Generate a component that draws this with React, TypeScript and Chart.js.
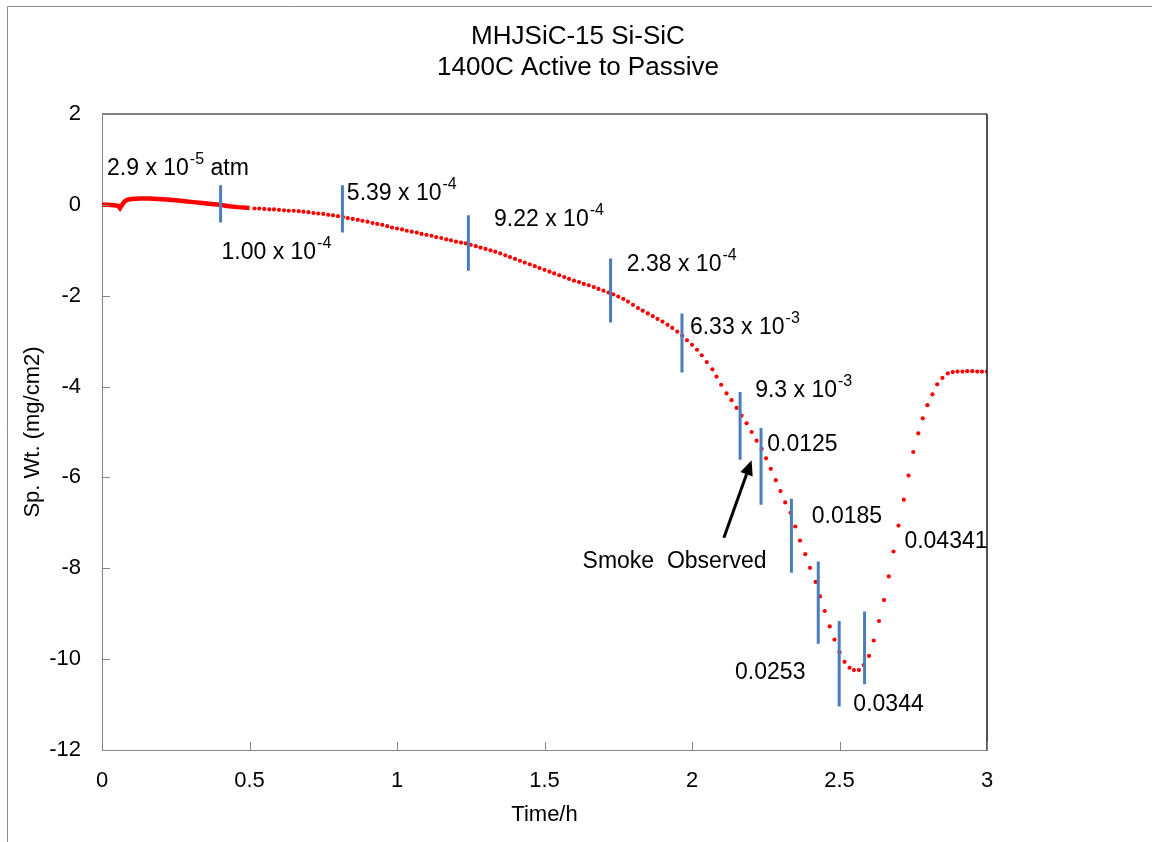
import React, { useEffect, useRef } from "react";
import { Chart, registerables } from "chart.js";

Chart.register(...registerables);

// ---------- text ----------
const titleLines = ["MHJSiC-15 Si-SiC", "1400C Active to Passive"];
const xAxisTitle = "Time/h";
const yAxisTitle = "Sp. Wt. (mg/cm2)";

// ---------- axis ranges / ticks ----------
const xMin = 0;
const xMax = 3;
const xStep = 0.5;
const yMin = -12;
const yMax = 2;
const yStep = 2;

// ---------- dense early record (0 - 0.5 h), drawn as a thick trace ----------
const earlyTime = [0.0, 0.02, 0.04, 0.055, 0.061, 0.068, 0.076, 0.085, 0.1, 0.13, 0.16, 0.19, 0.22, 0.25, 0.28, 0.31, 0.34, 0.37, 0.4, 0.43, 0.46, 0.5];
const earlyWeight = [0.0, 0.0, -0.01, -0.02, -0.07, 0.0, 0.07, 0.11, 0.13, 0.14, 0.14, 0.13, 0.12, 0.1, 0.08, 0.06, 0.04, 0.02, 0.0, -0.03, -0.05, -0.07];

// ---------- one-minute points (0.5 - 3 h), drawn as red dots ----------
const dotTime = [
  0.517, 0.533, 0.55, 0.567, 0.583, 0.6, 0.617, 0.633, 0.65, 0.667, 0.683, 0.7, 0.717, 0.733, 0.75, 0.767, 0.783, 0.8,
  0.817, 0.833, 0.85, 0.867, 0.883, 0.9, 0.917, 0.933, 0.95, 0.967, 0.983, 1.0, 1.017, 1.033, 1.05, 1.067, 1.083, 1.1,
  1.117, 1.133, 1.15, 1.167, 1.183, 1.2, 1.217, 1.233, 1.25, 1.267, 1.283, 1.3, 1.317, 1.333, 1.35, 1.367, 1.383, 1.4,
  1.417, 1.433, 1.45, 1.467, 1.483, 1.5, 1.517, 1.533, 1.55, 1.567, 1.583, 1.6, 1.617, 1.633, 1.65, 1.667, 1.683, 1.7,
  1.717, 1.733, 1.75, 1.767, 1.783, 1.8, 1.817, 1.833, 1.85, 1.867, 1.883, 1.9, 1.917, 1.933, 1.95, 1.967, 1.983, 2.0,
  2.017, 2.033, 2.05, 2.069, 2.083, 2.099, 2.117, 2.134, 2.151, 2.168, 2.185, 2.202, 2.219, 2.236, 2.251, 2.267, 2.284,
  2.3, 2.316, 2.334, 2.35, 2.366, 2.384, 2.4, 2.419, 2.434, 2.45, 2.467, 2.483, 2.5, 2.517, 2.534, 2.549, 2.566, 2.582,
  2.6, 2.616, 2.634, 2.651, 2.667, 2.683, 2.7, 2.718, 2.734, 2.75, 2.767, 2.782, 2.798, 2.815, 2.831, 2.849, 2.867,
  2.884, 2.9, 2.917, 2.933, 2.95, 2.967, 2.983, 3.0,
];
const dotWeight = [
  -0.08, -0.08, -0.09, -0.1, -0.1, -0.11, -0.12, -0.13, -0.13, -0.14, -0.15, -0.16, -0.18, -0.19, -0.2, -0.22, -0.23, -0.25,
  -0.27, -0.29, -0.31, -0.33, -0.35, -0.37, -0.4, -0.42, -0.44, -0.47, -0.5, -0.52, -0.54, -0.57, -0.59, -0.61, -0.64, -0.66,
  -0.68, -0.71, -0.73, -0.76, -0.78, -0.81, -0.83, -0.85, -0.88, -0.91, -0.94, -0.97, -1.0, -1.03, -1.07, -1.11, -1.15, -1.19,
  -1.23, -1.27, -1.31, -1.35, -1.39, -1.43, -1.47, -1.51, -1.55, -1.59, -1.63, -1.67, -1.7, -1.74, -1.77, -1.81, -1.85, -1.89,
  -1.93, -1.97, -2.02, -2.07, -2.13, -2.2, -2.27, -2.33, -2.39, -2.45, -2.51, -2.57, -2.64, -2.71, -2.79, -2.88, -2.98, -3.08,
  -3.19, -3.31, -3.46, -3.62, -3.78, -3.96, -4.15, -4.3, -4.47, -4.64, -4.81, -5.0, -5.19, -5.37, -5.58, -5.81, -6.06,
  -6.3, -6.55, -6.78, -7.08, -7.39, -7.69, -7.99, -8.3, -8.62, -8.94, -9.28, -9.57, -9.85, -10.06, -10.19, -10.24, -10.24, -10.13,
  -9.93, -9.59, -9.16, -8.7, -8.18, -7.63, -7.06, -6.49, -5.96, -5.44, -5.03, -4.7, -4.41, -4.17, -3.95, -3.81, -3.71,
  -3.68, -3.67, -3.67, -3.66, -3.66, -3.67, -3.67, -3.67,
];

// ---------- blue markers at each pressure change ----------
const markerTime = [0.402, 0.815, 1.242, 1.724, 1.966, 2.163, 2.234, 2.337, 2.428, 2.499, 2.585];
const markerTop = [0.43, 0.43, -0.23, -1.18, -2.39, -4.12, -4.91, -6.47, -7.85, -9.16, -8.95];
const markerBottom = [-0.39, -0.61, -1.45, -2.59, -3.69, -5.61, -6.6, -8.1, -9.66, -11.04, -10.55];

// ---------- annotation texts (anchor = left edge, vertical middle, in data units) ----------
const noteBase = ["2.9 x 10", "1.00 x 10", "5.39 x 10", "9.22 x 10", "2.38 x 10", "6.33 x 10", "9.3 x 10", "0.0125", "0.0185", "0.04341", "0.0253", "0.0344", "Smoke  Observed"];
const noteSup = ["-5", "-4", "-4", "-4", "-4", "-3", "-3", "", "", "", "", "", ""];
const noteTail = [" atm", "", "", "", "", "", "", "", "", "", "", "", ""];
const noteTime = [0.017, 0.405, 0.83, 1.329, 1.779, 1.993, 2.214, 2.255, 2.406, 2.72, 2.146, 2.547, 1.629];
const noteWeight = [0.84, -1.02, 0.28, -0.29, -1.29, -2.67, -4.05, -5.24, -6.82, -7.37, -10.26, -10.96, -7.81];

// arrow from "Smoke Observed" label
const arrowFrom = { t: 2.108, v: -7.33 };
const arrowTo = { t: 2.202, v: -5.62 };

const FONT = "'Liberation Sans', Arial, sans-serif";

const overlayPlugin = {
  id: "overlay",
  beforeDraw(chart: any) {
    const ctx = chart.ctx;
    ctx.save();
    ctx.fillStyle = "#ffffff";
    ctx.fillRect(0, 0, chart.width, chart.height);
    ctx.strokeStyle = "#8c8c8c";
    ctx.lineWidth = 1;
    ctx.beginPath();
    ctx.moveTo(7.5, chart.height);
    ctx.lineTo(7.5, 6.5);
    ctx.lineTo(chart.width, 6.5);
    ctx.stroke();
    ctx.restore();
  },
  afterDraw(chart: any) {
    const ctx = chart.ctx;
    const area = chart.chartArea;
    const xs = chart.scales.x;
    const ys = chart.scales.y;
    ctx.save();

    // plot border: top (gray) and right (dark)
    ctx.strokeStyle = "#808080";
    ctx.lineWidth = 2;
    ctx.beginPath();
    ctx.moveTo(area.left, area.top);
    ctx.lineTo(area.right, area.top);
    ctx.stroke();
    ctx.strokeStyle = "#1a1a1a";
    ctx.lineWidth = 1.5;
    ctx.beginPath();
    ctx.moveTo(area.right, area.top);
    ctx.lineTo(area.right, area.bottom);
    ctx.stroke();

    // inside tick marks
    ctx.strokeStyle = "#868686";
    ctx.lineWidth = 1;
    ys.ticks.forEach((tk: any) => {
      const y = Math.round(ys.getPixelForValue(tk.value)) + 0.5;
      ctx.beginPath();
      ctx.moveTo(area.left, y);
      ctx.lineTo(area.left + 8, y);
      ctx.stroke();
    });
    xs.ticks.forEach((tk: any) => {
      const x = Math.round(xs.getPixelForValue(tk.value)) + 0.5;
      ctx.beginPath();
      ctx.moveTo(x, area.bottom);
      ctx.lineTo(x, area.bottom - 8);
      ctx.stroke();
    });

    // titles
    ctx.fillStyle = "#000";
    ctx.textAlign = "center";
    ctx.textBaseline = "middle";
    ctx.font = `26px ${FONT}`;
    ctx.fillText(titleLines[0], 578, 37);
    ctx.fillText(titleLines[1], 578, 68);

    ctx.font = `22px ${FONT}`;
    ctx.fillText(xAxisTitle, (area.left + area.right) / 2, 815);
    ctx.save();
    ctx.translate(33, (area.top + area.bottom) / 2);
    ctx.rotate(-Math.PI / 2);
    ctx.fillText(yAxisTitle, 0, 0);
    ctx.restore();

    // annotations
    ctx.textAlign = "left";
    ctx.textBaseline = "alphabetic";
    noteBase.forEach((base, i) => {
      let x = xs.getPixelForValue(noteTime[i]);
      const yBase = ys.getPixelForValue(noteWeight[i]) + 8;
      ctx.font = `23px ${FONT}`;
      ctx.fillText(base, x, yBase);
      x += ctx.measureText(base).width;
      if (noteSup[i]) {
        ctx.font = `16px ${FONT}`;
        ctx.fillText(noteSup[i], x + 1, yBase - 11);
        x += ctx.measureText(noteSup[i]).width + 1;
      }
      if (noteTail[i]) {
        ctx.font = `23px ${FONT}`;
        ctx.fillText(noteTail[i], x, yBase);
      }
    });

    // arrow
    const x1 = xs.getPixelForValue(arrowFrom.t);
    const y1 = ys.getPixelForValue(arrowFrom.v);
    const x2 = xs.getPixelForValue(arrowTo.t);
    const y2 = ys.getPixelForValue(arrowTo.v);
    const ang = Math.atan2(y2 - y1, x2 - x1);
    const headLen = 15;
    const headW = 6.5;
    const bx = x2 - headLen * Math.cos(ang);
    const by = y2 - headLen * Math.sin(ang);
    ctx.strokeStyle = "#000";
    ctx.fillStyle = "#000";
    ctx.lineWidth = 3;
    ctx.beginPath();
    ctx.moveTo(x1, y1);
    ctx.lineTo(bx, by);
    ctx.stroke();
    ctx.beginPath();
    ctx.moveTo(x2, y2);
    ctx.lineTo(bx + headW * Math.sin(ang), by - headW * Math.cos(ang));
    ctx.lineTo(bx - headW * Math.sin(ang), by + headW * Math.cos(ang));
    ctx.closePath();
    ctx.fill();

    ctx.restore();
  },
};

export default function App() {
  const canvasRef = useRef<HTMLCanvasElement | null>(null);

  useEffect(() => {
    if (!canvasRef.current) return;

    const markerData: { x: number; y: number | null }[] = [];
    markerTime.forEach((t, i) => {
      markerData.push({ x: t, y: markerTop[i] });
      markerData.push({ x: t, y: markerBottom[i] });
      markerData.push({ x: t, y: null });
    });

    const chart = new Chart(canvasRef.current, {
      type: "scatter",
      data: {
        datasets: [
          {
            label: "pressure change",
            data: markerData as any,
            showLine: true,
            spanGaps: false,
            borderColor: "#4a7ebb",
            borderWidth: 3,
            pointRadius: 0,
            order: 0,
          },
          {
            label: "early record",
            data: earlyTime.map((t, i) => ({ x: t, y: earlyWeight[i] })),
            showLine: true,
            borderColor: "#ff0000",
            borderWidth: 4.5,
            pointRadius: 0,
            tension: 0,
            order: 1,
          },
          {
            label: "Sp. Wt.",
            data: dotTime.map((t, i) => ({ x: t, y: dotWeight[i] })),
            showLine: false,
            pointRadius: 2.1,
            pointBorderWidth: 0,
            backgroundColor: "#ff0000",
            borderColor: "#ff0000",
            order: 2,
          },
        ],
      },
      options: {
        responsive: false,
        animation: false,
        devicePixelRatio: 1,
        layout: { padding: { left: 0, top: 114, right: 165, bottom: 0 } },
        plugins: {
          legend: { display: false },
          tooltip: { enabled: false },
          title: { display: false },
        },
        scales: {
          x: {
            type: "linear",
            min: xMin,
            max: xMax,
            grid: { display: false, drawTicks: false },
            border: { display: true, color: "#868686", width: 1 },
            ticks: {
              stepSize: xStep,
              padding: 18,
              color: "#000",
              font: { family: FONT, size: 22 },
              maxRotation: 0,
              callback: (value: any) => `${Number(value)}`,
            },
            afterFit: (scale: any) => {
              scale.height = 92;
            },
          },
          y: {
            type: "linear",
            min: yMin,
            max: yMax,
            grid: { display: false, drawTicks: false },
            border: { display: true, color: "#868686", width: 1 },
            ticks: {
              stepSize: yStep,
              padding: 21,
              color: "#000",
              font: { family: FONT, size: 22 },
              callback: (value: any) => `${Number(value)}`,
            },
            afterFit: (scale: any) => {
              scale.width = 102;
            },
          },
        },
      },
      plugins: [overlayPlugin],
    });

    return () => chart.destroy();
  }, []);

  return (
    <div style={{ position: "absolute", left: 0, top: 0, width: 1152, height: 842, background: "#fff" }}>
      <canvas ref={canvasRef} width={1152} height={842} style={{ display: "block" }} />
    </div>
  );
}
